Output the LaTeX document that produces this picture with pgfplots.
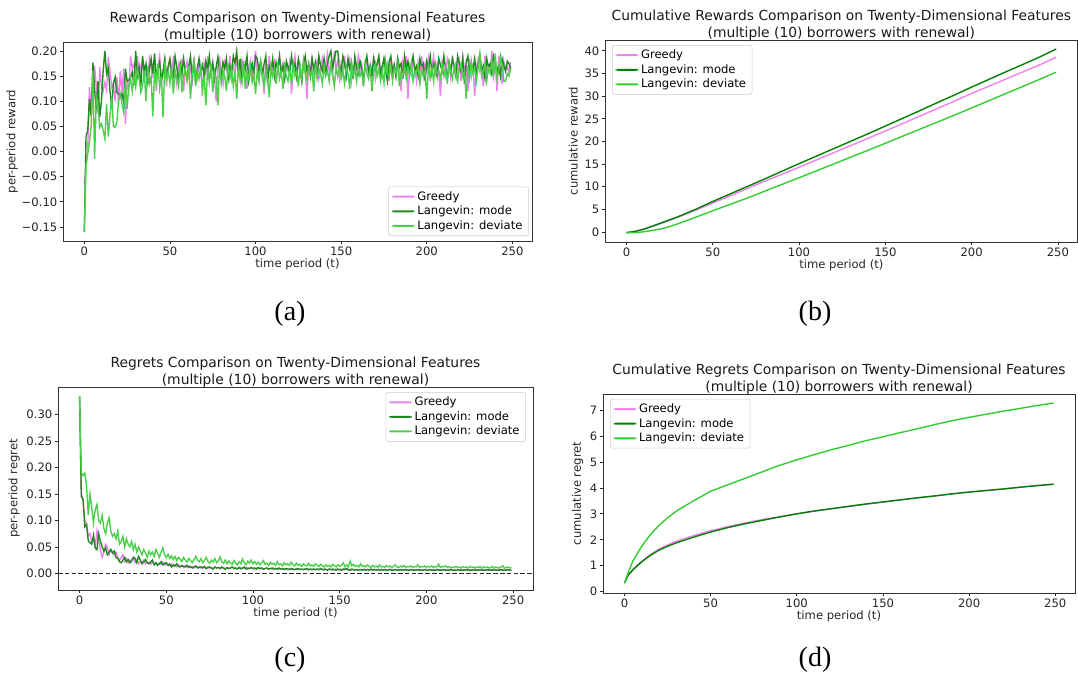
\documentclass[border=0pt]{standalone}
\usepackage{fontspec}
\setmainfont{DejaVu Sans}
\newfontfamily\capfont{Liberation Serif}
\usepackage{pgfplots}
\usepackage{pgfplotstable}
\pgfplotsset{compat=1.18}
\definecolor{cGreedy}{HTML}{EE82EE}
\definecolor{cMode}{HTML}{008000}
\definecolor{cDev}{HTML}{32CD32}
\definecolor{cModeA}{HTML}{1F8A1F}
\definecolor{cDevA}{HTML}{4CD04C}
\pgfplotsset{
  mpl/.style={
    scale only axis,
    anchor=south west,
    xmin=-12.45, xmax=261.45,
    xtick={0,50,100,150,200,250},
    tick pos=left,
    tick align=outside,
    major tick length=2.6pt,
    every tick/.style={black!85, line width=0.55pt},
    axis line style={black!80, line width=0.55pt},
    every tick label/.append style={font=\fontsize{8.7}{10.4}\selectfont, text=black!85, inner sep=1.5pt},
    label style={font=\fontsize{8.7}{10.4}\selectfont, text=black!85},
    xlabel style={yshift=3pt},
    title style={font=\fontsize{10.4}{12.5}\selectfont, align=center, text=black!90, yshift=-9.5pt},
    /pgf/number format/assume math mode=true,
    legend style={font=\fontsize{8.7}{10.4}\selectfont, draw=black!20, rounded corners=1.5pt, fill=white, row sep=0pt, inner xsep=2.5pt, inner ysep=2pt, nodes={inner ysep=1.4pt}},
    legend image code/.code={\fill[##1, draw=none] (0pt,-0.75pt) rectangle (17pt,0.75pt);},
    legend cell align=left,
    xlabel={time period (t)},
  },
}
\begin{document}
\pgfplotstableread{
t g m d
0 -0.065 -0.160 -0.160
1 -0.030 0.030 -0.028
2 0.005 0.042 -0.005
3 0.128 0.105 0.020
4 0.080 0.070 0.050
5 0.095 0.177 0.160
6 0.170 0.125 -0.015
7 0.130 0.080 0.110
8 0.075 0.140 0.092
9 0.168 0.068 0.048
10 0.130 0.100 0.055
11 0.120 0.160 0.042
12 0.138 0.200 0.025
13 0.122 0.155 0.095
14 0.188 0.165 0.030
15 0.160 0.120 0.072
16 0.128 0.090 0.110
17 0.135 0.135 0.050
18 0.100 0.148 0.048
19 0.148 0.118 0.058
20 0.095 0.115 0.100
21 0.160 0.108 0.115
22 0.118 0.115 0.095
23 0.165 0.098 0.078
24 0.055 0.165 0.140
25 0.140 0.140 0.085
26 0.122 0.142 0.130
27 0.190 0.148 0.145
28 0.165 0.158 0.120
29 0.175 0.132 0.150
30 0.140 0.200 0.128
31 0.190 0.150 0.165
32 0.155 0.168 0.145
33 0.170 0.130 0.118
34 0.180 0.190 0.130
35 0.145 0.160 0.160
36 0.160 0.175 0.100
37 0.130 0.135 0.170
38 0.185 0.165 0.135
39 0.165 0.185 0.150
40 0.150 0.155 0.070
41 0.175 0.195 0.160
42 0.120 0.150 0.140
43 0.168 0.165 0.175
44 0.190 0.178 0.125
45 0.140 0.140 0.150
46 0.155 0.160 0.068
47 0.180 0.185 0.180
48 0.130 0.150 0.145
49 0.165 0.170 0.160
50 0.178 0.185 0.135
51 0.145 0.160 0.170
52 0.190 0.150 0.115
53 0.160 0.190 0.160
54 0.135 0.168 0.145
55 0.172 0.140 0.130
56 0.155 0.175 0.175
57 0.185 0.155 0.118
58 0.120 0.185 0.150
59 0.165 0.160 0.165
60 0.180 0.145 0.140
61 0.150 0.170 0.170
62 0.170 0.190 0.105
63 0.130 0.150 0.155
64 0.188 0.178 0.180
65 0.160 0.135 0.130
66 0.145 0.165 0.160
67 0.178 0.185 0.145
68 0.165 0.158 0.170
69 0.110 0.172 0.125
70 0.175 0.150 0.150
71 0.155 0.180 0.092
72 0.190 0.162 0.165
73 0.140 0.190 0.140
74 0.165 0.155 0.175
75 0.180 0.175 0.118
76 0.150 0.145 0.160
77 0.100 0.168 0.145
78 0.170 0.188 0.092
79 0.185 0.160 0.170
80 0.160 0.150 0.135
81 0.135 0.178 0.160
82 0.178 0.165 0.150
83 0.165 0.185 0.120
84 0.150 0.145 0.175
85 0.190 0.170 0.145
86 0.145 0.158 0.165
87 0.170 0.190 0.130
88 0.158 0.175 0.160
89 0.180 0.200 0.105
90 0.165 0.150 0.170
91 0.140 0.185 0.148
92 0.185 0.140 0.135
93 0.155 0.175 0.180
94 0.175 0.165 0.125
95 0.125 0.190 0.160
96 0.168 0.140 0.145
97 0.180 0.160 0.170
98 0.150 0.175 0.138
99 0.170 0.150 0.155
100 0.200 0.190 0.115
101 0.160 0.185 0.160
102 0.140 0.160 0.140
103 0.178 0.180 0.175
104 0.165 0.150 0.150
105 0.115 0.175 0.130
106 0.180 0.190 0.165
107 0.155 0.135 0.145
108 0.190 0.170 0.108
109 0.150 0.160 0.170
110 0.170 0.185 0.150
111 0.180 0.150 0.165
112 0.135 0.178 0.135
113 0.165 0.165 0.175
114 0.190 0.190 0.145
115 0.155 0.155 0.160
116 0.175 0.170 0.125
117 0.145 0.145 0.170
118 0.170 0.180 0.150
119 0.160 0.168 0.140
120 0.180 0.155 0.165
121 0.115 0.190 0.135
122 0.165 0.165 0.175
123 0.190 0.175 0.150
124 0.150 0.150 0.160
125 0.175 0.185 0.130
126 0.160 0.168 0.170
127 0.140 0.140 0.145
128 0.185 0.175 0.180
129 0.168 0.190 0.155
130 0.105 0.160 0.140
131 0.175 0.175 0.170
132 0.160 0.150 0.150
133 0.190 0.185 0.160
134 0.150 0.165 0.120
135 0.170 0.178 0.175
136 0.180 0.145 0.145
137 0.145 0.190 0.165
138 0.165 0.170 0.155
139 0.185 0.160 0.135
140 0.155 0.185 0.170
141 0.175 0.155 0.150
142 0.195 0.175 0.160
143 0.160 0.190 0.140
144 0.170 0.200 0.175
145 0.150 0.165 0.155
146 0.200 0.185 0.130
147 0.165 0.200 0.165
148 0.180 0.200 0.150
149 0.145 0.170 0.172
150 0.175 0.160 0.145
151 0.160 0.190 0.160
152 0.190 0.175 0.135
153 0.150 0.150 0.170
154 0.170 0.185 0.155
155 0.185 0.165 0.125
156 0.140 0.178 0.175
157 0.165 0.145 0.150
158 0.178 0.190 0.165
159 0.155 0.168 0.140
160 0.190 0.155 0.170
161 0.160 0.180 0.150
162 0.175 0.165 0.160
163 0.130 0.140 0.130
164 0.168 0.175 0.175
165 0.185 0.190 0.155
166 0.150 0.160 0.145
167 0.175 0.170 0.165
168 0.160 0.150 0.120
169 0.190 0.185 0.160
170 0.145 0.165 0.175
171 0.170 0.175 0.150
172 0.180 0.190 0.165
173 0.160 0.155 0.140
174 0.150 0.170 0.160
175 0.185 0.185 0.135
176 0.165 0.160 0.180
177 0.175 0.140 0.155
178 0.140 0.178 0.150
179 0.190 0.190 0.170
180 0.160 0.160 0.140
181 0.175 0.172 0.165
182 0.150 0.150 0.155
183 0.185 0.185 0.175
184 0.165 0.168 0.130
185 0.120 0.175 0.160
186 0.178 0.145 0.150
187 0.160 0.190 0.170
188 0.190 0.165 0.145
189 0.105 0.180 0.165
190 0.170 0.155 0.150
191 0.155 0.175 0.175
192 0.185 0.190 0.140
193 0.165 0.160 0.160
194 0.140 0.170 0.155
195 0.178 0.150 0.170
196 0.160 0.185 0.135
197 0.190 0.168 0.165
198 0.150 0.175 0.150
199 0.175 0.140 0.160
200 0.160 0.180 0.105
201 0.185 0.165 0.170
202 0.140 0.190 0.150
203 0.170 0.155 0.165
204 0.190 0.175 0.140
205 0.155 0.168 0.175
206 0.175 0.150 0.155
207 0.160 0.185 0.160
208 0.110 0.172 0.145
209 0.180 0.160 0.170
210 0.165 0.190 0.150
211 0.150 0.165 0.165
212 0.185 0.145 0.135
213 0.170 0.178 0.175
214 0.145 0.160 0.160
215 0.190 0.185 0.145
216 0.160 0.170 0.170
217 0.175 0.150 0.155
218 0.155 0.190 0.140
219 0.180 0.175 0.165
220 0.140 0.160 0.175
221 0.190 0.185 0.150
222 0.165 0.135 0.160
223 0.170 0.178 0.105
224 0.120 0.190 0.170
225 0.185 0.155 0.145
226 0.150 0.170 0.180
227 0.175 0.165 0.155
228 0.110 0.185 0.165
229 0.168 0.150 0.140
230 0.185 0.175 0.170
231 0.160 0.190 0.195
232 0.175 0.160 0.150
233 0.130 0.170 0.160
234 0.190 0.145 0.175
235 0.155 0.185 0.140
236 0.170 0.168 0.165
237 0.160 0.175 0.155
238 0.200 0.155 0.180
239 0.150 0.190 0.150
240 0.175 0.178 0.195
241 0.120 0.160 0.145
242 0.190 0.170 0.160
243 0.165 0.150 0.190
244 0.135 0.185 0.170
245 0.180 0.172 0.140
246 0.160 0.160 0.140
247 0.170 0.180 0.155
248 0.155 0.175 0.150
249 0.178 0.165 0.165
}\rewards
\pgfplotstableread{
t m g d
0 -0.16 -0.065 -0.16
5 0.15 0.10 -0.15
10 0.62 0.60 0.05
15 1.30 1.25 0.35
20 2.00 1.90 0.70
25 2.70 2.60 1.20
30 3.40 3.30 1.85
40 5.00 4.80 3.25
50 6.75 6.40 4.70
60 8.40 8.00 6.10
70 10.05 9.60 7.50
80 11.70 11.20 9.00
90 13.40 12.75 10.50
100 15.10 14.30 12.00
110 16.75 15.90 13.50
120 18.40 17.50 15.00
130 20.05 19.10 16.55
140 21.70 20.70 18.05
150 23.40 22.30 19.60
160 25.10 23.95 21.15
170 26.80 25.60 22.70
180 28.55 27.25 24.25
190 30.25 28.90 25.80
200 32.00 30.60 27.40
210 33.70 32.20 29.00
220 35.40 33.80 30.60
230 37.05 35.40 32.20
240 38.75 37.00 33.80
249 40.40 38.60 35.30
}\cumrew
\pgfplotstableread{
t g m d
0 0.330 0.335 0.335
1 0.150 0.145 0.190
2 0.140 0.140 0.185
3 0.100 0.088 0.190
4 0.095 0.092 0.165
5 0.070 0.062 0.110
6 0.075 0.058 0.150
7 0.060 0.055 0.125
8 0.065 0.072 0.095
9 0.050 0.048 0.120
10 0.080 0.045 0.130
11 0.060 0.075 0.100
12 0.045 0.060 0.095
13 0.030 0.050 0.110
14 0.040 0.042 0.085
15 0.055 0.048 0.075
16 0.050 0.035 0.095
17 0.035 0.040 0.105
18 0.045 0.045 0.080
19 0.040 0.038 0.070
20 0.035 0.042 0.075
21 0.040 0.030 0.065
22 0.030 0.028 0.080
23 0.025 0.022 0.055
24 0.030 0.020 0.060
25 0.035 0.025 0.070
26 0.022 0.030 0.050
27 0.028 0.022 0.065
28 0.020 0.026 0.055
29 0.025 0.020 0.050
30 0.022 0.024 0.060
31 0.030 0.030 0.045
32 0.020 0.028 0.055
33 0.025 0.020 0.040
34 0.018 0.032 0.050
35 0.022 0.025 0.042
36 0.020 0.018 0.035
37 0.025 0.022 0.045
38 0.018 0.026 0.038
39 0.022 0.020 0.030
40 0.020 0.018 0.042
41 0.017 0.022 0.035
42 0.022 0.025 0.040
43 0.018 0.016 0.032
44 0.020 0.020 0.045
45 0.016 0.015 0.038
46 0.019 0.018 0.030
47 0.017 0.022 0.040
48 0.021 0.016 0.048
49 0.015 0.019 0.035
50 0.018 0.020 0.030
51 0.016 0.015 0.036
52 0.014 0.018 0.028
53 0.017 0.012 0.033
54 0.013 0.016 0.026
55 0.015 0.014 0.032
56 0.012 0.018 0.024
57 0.016 0.013 0.030
58 0.013 0.012 0.027
59 0.014 0.015 0.022
60 0.011 0.013 0.030
61 0.015 0.012 0.025
62 0.012 0.015 0.021
63 0.014 0.011 0.028
64 0.011 0.013 0.024
65 0.013 0.010 0.020
66 0.010 0.012 0.026
67 0.012 0.014 0.032
68 0.011 0.010 0.025
69 0.013 0.011 0.022
70 0.010 0.012 0.028
71 0.012 0.010 0.020
72 0.011 0.013 0.024
73 0.009 0.009 0.030
74 0.012 0.011 0.022
75 0.010 0.012 0.019
76 0.011 0.010 0.025
77 0.009 0.008 0.021
78 0.012 0.012 0.028
79 0.010 0.010 0.020
80 0.011 0.011 0.024
81 0.009 0.009 0.031
82 0.011 0.012 0.022
83 0.010 0.010 0.019
84 0.008 0.008 0.025
85 0.011 0.011 0.018
86 0.009 0.009 0.023
87 0.010 0.010 0.020
88 0.012 0.012 0.017
89 0.009 0.009 0.024
90 0.010 0.010 0.019
91 0.009 0.008 0.016
92 0.011 0.011 0.022
93 0.008 0.009 0.018
94 0.010 0.010 0.027
95 0.009 0.012 0.020
96 0.011 0.008 0.016
97 0.008 0.010 0.023
98 0.010 0.009 0.019
99 0.009 0.011 0.025
100 0.010 0.009 0.018
101 0.008 0.010 0.022
102 0.010 0.008 0.017
103 0.009 0.011 0.021
104 0.008 0.009 0.016
105 0.010 0.010 0.020
106 0.008 0.008 0.024
107 0.009 0.009 0.017
108 0.010 0.010 0.019
109 0.008 0.008 0.015
110 0.009 0.009 0.021
111 0.008 0.010 0.017
112 0.010 0.008 0.019
113 0.008 0.009 0.015
114 0.009 0.008 0.022
115 0.007 0.010 0.016
116 0.009 0.008 0.018
117 0.008 0.009 0.014
118 0.009 0.007 0.020
119 0.007 0.009 0.016
120 0.008 0.008 0.018
121 0.009 0.007 0.015
122 0.007 0.009 0.021
123 0.008 0.008 0.016
124 0.007 0.007 0.014
125 0.009 0.008 0.019
126 0.007 0.009 0.015
127 0.008 0.007 0.017
128 0.007 0.008 0.013
129 0.008 0.007 0.018
130 0.007 0.008 0.015
131 0.008 0.009 0.014
132 0.006 0.007 0.019
133 0.008 0.008 0.014
134 0.007 0.007 0.016
135 0.008 0.008 0.013
136 0.006 0.007 0.018
137 0.008 0.008 0.015
138 0.007 0.007 0.013
139 0.008 0.009 0.017
140 0.007 0.007 0.014
141 0.006 0.008 0.012
142 0.008 0.007 0.016
143 0.007 0.006 0.013
144 0.008 0.008 0.015
145 0.007 0.007 0.012
146 0.006 0.008 0.017
147 0.007 0.007 0.014
148 0.008 0.006 0.012
149 0.007 0.008 0.016
150 0.006 0.007 0.013
151 0.008 0.006 0.015
152 0.007 0.008 0.020
153 0.010 0.007 0.013
154 0.007 0.009 0.016
155 0.006 0.007 0.012
156 0.007 0.006 0.023
157 0.006 0.008 0.014
158 0.007 0.007 0.017
159 0.006 0.006 0.013
160 0.007 0.007 0.015
161 0.006 0.006 0.012
162 0.007 0.007 0.018
163 0.006 0.006 0.013
164 0.008 0.007 0.015
165 0.006 0.006 0.012
166 0.007 0.007 0.016
167 0.006 0.006 0.013
168 0.007 0.008 0.011
169 0.006 0.006 0.015
170 0.007 0.007 0.012
171 0.006 0.006 0.014
172 0.007 0.007 0.011
173 0.006 0.006 0.016
174 0.007 0.007 0.012
175 0.006 0.006 0.013
176 0.006 0.007 0.011
177 0.007 0.006 0.015
178 0.006 0.006 0.012
179 0.008 0.007 0.014
180 0.006 0.006 0.011
181 0.007 0.006 0.013
182 0.006 0.007 0.016
183 0.006 0.006 0.012
184 0.007 0.006 0.011
185 0.006 0.007 0.014
186 0.006 0.006 0.012
187 0.007 0.006 0.015
188 0.006 0.007 0.011
189 0.006 0.006 0.013
190 0.007 0.006 0.012
191 0.006 0.007 0.014
192 0.006 0.006 0.011
193 0.007 0.006 0.013
194 0.006 0.006 0.012
195 0.006 0.007 0.016
196 0.007 0.006 0.011
197 0.006 0.006 0.013
198 0.006 0.006 0.012
199 0.007 0.007 0.014
200 0.006 0.006 0.011
201 0.006 0.006 0.013
202 0.007 0.007 0.012
203 0.006 0.006 0.014
204 0.006 0.006 0.011
205 0.007 0.006 0.013
206 0.006 0.007 0.012
207 0.006 0.006 0.017
208 0.006 0.006 0.011
209 0.007 0.006 0.013
210 0.006 0.007 0.012
211 0.006 0.006 0.014
212 0.006 0.006 0.011
213 0.007 0.006 0.013
214 0.006 0.007 0.010
215 0.006 0.006 0.012
216 0.006 0.006 0.011
217 0.007 0.006 0.013
218 0.006 0.007 0.011
219 0.006 0.006 0.012
220 0.006 0.006 0.010
221 0.007 0.006 0.013
222 0.006 0.006 0.011
223 0.006 0.007 0.012
224 0.006 0.006 0.010
225 0.007 0.006 0.013
226 0.006 0.006 0.011
227 0.006 0.007 0.012
228 0.006 0.006 0.010
229 0.007 0.006 0.012
230 0.006 0.006 0.011
231 0.006 0.007 0.013
232 0.006 0.006 0.010
233 0.007 0.006 0.012
234 0.006 0.006 0.011
235 0.006 0.007 0.012
236 0.006 0.006 0.010
237 0.007 0.006 0.011
238 0.006 0.006 0.013
239 0.006 0.007 0.010
240 0.006 0.006 0.012
241 0.007 0.006 0.011
242 0.006 0.006 0.010
243 0.006 0.007 0.012
244 0.006 0.006 0.014
245 0.006 0.006 0.010
246 0.007 0.006 0.011
247 0.006 0.007 0.012
248 0.006 0.006 0.010
249 0.006 0.006 0.011
}\regrets
\pgfplotstableread{
t m g d
0 0.33 0.33 0.33
2 0.62 0.63 0.71
5 0.85 0.87 1.20
10 1.15 1.17 1.75
15 1.40 1.43 2.20
20 1.60 1.64 2.55
25 1.75 1.80 2.85
30 1.88 1.94 3.10
40 2.10 2.16 3.50
50 2.30 2.35 3.87
60 2.47 2.51 4.12
70 2.62 2.65 4.37
80 2.75 2.78 4.62
90 2.88 2.89 4.87
100 3.00 3.00 5.08
110 3.11 3.10 5.28
120 3.20 3.19 5.47
130 3.29 3.28 5.64
140 3.38 3.37 5.82
150 3.46 3.45 5.97
160 3.54 3.53 6.13
170 3.62 3.61 6.28
180 3.69 3.69 6.44
190 3.77 3.77 6.59
200 3.84 3.84 6.72
210 3.90 3.90 6.84
220 3.96 3.96 6.96
230 4.03 4.03 7.07
240 4.09 4.10 7.18
249 4.14 4.15 7.27
}\cumreg
\begin{tikzpicture}
\useasboundingbox (0,0) rectangle (808.5pt,507.75pt);
% (a)
\begin{axis}[mpl, at={(47.25pt,327pt)}, width=351.75pt, height=149.25pt,
  ymin=-0.178, ymax=0.218,
  ytick={-0.15,-0.1,-0.05,0,0.05,0.1,0.15,0.2},
  yticklabels={−0.15,−0.10,−0.05,0.00,0.05,0.10,0.15,0.20},
  ylabel={per-period reward},
  ylabel style={yshift=-2pt},
  title={Rewards Comparison on Twenty-Dimensional Features\\(multiple (10) borrowers with renewal)},
  legend style={at={(0.993,0.025)}, anchor=south east}]
\addplot[cGreedy, line width=1.05pt] table[x=t,y=g]{\rewards};
\addlegendentry{Greedy}
\addplot[cModeA, line width=1.05pt] table[x=t,y=m]{\rewards};
\addlegendentry{Langevin: mode}
\addplot[cDevA, line width=1.05pt] table[x=t,y=d]{\rewards};
\addlegendentry{Langevin: deviate}
\end{axis}
% (b)
\begin{axis}[mpl, at={(453.75pt,326.25pt)}, width=354.5pt, height=151.5pt,
  ymin=-2.2, ymax=42.4,
  ytick={0,5,10,15,20,25,30,35,40},
  ylabel={cumulative reward},
  title={Cumulative Rewards Comparison on Twenty-Dimensional Features\\(multiple (10) borrowers with renewal)},
  legend style={at={(0.015,0.975)}, anchor=north west}]
\addplot[cGreedy, line width=1.05pt] table[x=t,y=g]{\cumrew};
\addlegendentry{Greedy}
\addplot[cMode, line width=1.05pt] table[x=t,y=m]{\cumrew};
\addlegendentry{Langevin: mode}
\addplot[cDev, line width=1.05pt] table[x=t,y=d]{\cumrew};
\addlegendentry{Langevin: deviate}
\end{axis}
% (c)
\begin{axis}[mpl, at={(43.5pt,65.25pt)}, width=356.25pt, height=152.25pt,
  ymin=-0.0316, ymax=0.3525,
  ytick={0,0.05,0.1,0.15,0.2,0.25,0.3},
  yticklabels={0.00,0.05,0.10,0.15,0.20,0.25,0.30},
  ylabel={per-period regret},
  title={Regrets Comparison on Twenty-Dimensional Features\\(multiple (10) borrowers with renewal)},
  legend style={at={(0.985,0.975)}, anchor=north east}]
\addplot[cGreedy, line width=1.05pt] table[x=t,y=g]{\regrets};
\addlegendentry{Greedy}
\addplot[cModeA, line width=1.05pt] table[x=t,y=m]{\regrets};
\addlegendentry{Langevin: mode}
\addplot[cDevA, line width=1.05pt] table[x=t,y=d]{\regrets};
\addlegendentry{Langevin: deviate}
\addplot[black!85, dash pattern=on 3.5pt off 1.6pt, line width=0.9pt, forget plot] coordinates {(-12.45,0) (261.45,0)};
\end{axis}
% (d)
\begin{axis}[mpl, at={(452.25pt,63pt)}, width=354pt, height=149.25pt,
  ymin=-0.05, ymax=7.62,
  ytick={0,1,2,3,4,5,6,7},
  ylabel={cumulative regret},
  title={Cumulative Regrets Comparison on Twenty-Dimensional Features\\(multiple (10) borrowers with renewal)},
  legend style={at={(0.015,0.975)}, anchor=north west}]
\addplot[cGreedy, line width=1.05pt] table[x=t,y=g]{\cumreg};
\addlegendentry{Greedy}
\addplot[cMode, line width=1.05pt] table[x=t,y=m]{\cumreg};
\addlegendentry{Langevin: mode}
\addplot[cDev, line width=1.05pt] table[x=t,y=d]{\cumreg};
\addlegendentry{Langevin: deviate}
\end{axis}
\node[font=\capfont\fontsize{21}{24}\selectfont] at (217.5pt,272.25pt) {(a)};
\node[font=\capfont\fontsize{21}{24}\selectfont] at (611.25pt,272.25pt) {(b)};
\node[font=\capfont\fontsize{21}{24}\selectfont] at (217.5pt,12.75pt) {(c)};
\node[font=\capfont\fontsize{21}{24}\selectfont] at (611.25pt,12.75pt) {(d)};
\end{tikzpicture}
\end{document}
